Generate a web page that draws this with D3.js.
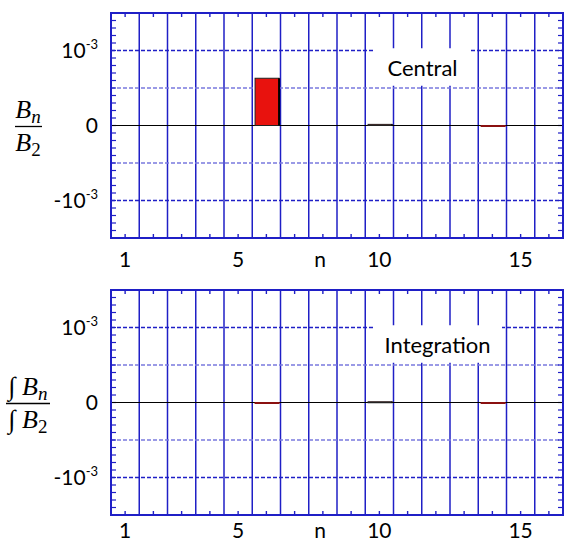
<!DOCTYPE html>
<html>
<head>
<meta charset="utf-8">
<script src="https://cdn.jsdelivr.net/npm/d3@7"></script>
<style>
  body { margin: 0; background: #fff; }
  text { font-family: Lato, "Open Sans", sans-serif; }
  .math { font-family: "Liberation Serif", "DejaVu Serif", serif; font-style: italic; }
</style>
</head>
<body>
<div class="vis"></div>
<script>
// harmonic orders
var orders = d3.range(1, 17)
// relative multipoles, central section
var centralValues = [0, 0, 0, 0, 0, 0.63e-3, 0, 0, 0, 0.015e-3, 0, 0, 0, -0.01e-3, 0, 0]
// relative multipoles, integrated
var integrationValues = [0, 0, 0, 0, 0, -0.01e-3, 0, 0, 0, 0.01e-3, 0, 0, 0, -0.01e-3, 0, 0]
var xTickLabels = [1, 5, 10, 15]
var yTickValues = [1e-3, 0, -1e-3]
var yTickLabels = [["10", "-3"], ["0", ""], ["-10", "-3"]]

var width = 565
var height = 545
var left = 111, right = 563

var svg = d3.select(".vis").append("svg")
    .attr("width", width)
    .attr("height", height)

var x = d3.scaleLinear().domain([0.5, 16.5]).range([left, right])

var blue = "#1f1fc6"

function drawPanel(top, bottom, values, label, labelBox, xLabelY, titleNum, titleDen, integral){
  var y = d3.scaleLinear().domain([-1.5e-3, 1.5e-3]).range([bottom, top])
  var g = svg.append("g")

  // vertical grid at half-integers
  g.selectAll(".vgrid")
      .data(d3.range(1.5, 16, 1))
    .enter().append("line")
      .attr("x1", function(d){ return x(d) })
      .attr("x2", function(d){ return x(d) })
      .attr("y1", top)
      .attr("y2", bottom)
      .attr("stroke", blue)
      .attr("stroke-width", 1.5)

  // horizontal dashed grid
  g.selectAll(".hgrid")
      .data([1e-3, 0.5e-3, -0.5e-3, -1e-3])
    .enter().append("line")
      .attr("x1", left)
      .attr("x2", right)
      .attr("y1", function(d){ return y(d) })
      .attr("y2", function(d){ return y(d) })
      .attr("stroke", function(d){ return Math.abs(d) > 0.7e-3 ? blue : "#7a7ade" })
      .attr("stroke-width", 1.3)
      .attr("stroke-dasharray", "4,2")

  // minor ticks left / right
  var minor = d3.range(-15, 16).map(function(d){ return d * 1e-4 })
  g.selectAll(".ltick").data(minor).enter().append("line")
      .attr("x1", left).attr("x2", left + 5)
      .attr("y1", function(d){ return y(d) }).attr("y2", function(d){ return y(d) })
      .attr("stroke", blue).attr("stroke-width", 1.2)
  g.selectAll(".rtick").data(minor).enter().append("line")
      .attr("x1", right).attr("x2", right - 5)
      .attr("y1", function(d){ return y(d) }).attr("y2", function(d){ return y(d) })
      .attr("stroke", blue).attr("stroke-width", 1.2)
  // ticks top / bottom at integer n
  g.selectAll(".btick").data(orders).enter().append("line")
      .attr("x1", function(d){ return x(d) }).attr("x2", function(d){ return x(d) })
      .attr("y1", bottom).attr("y2", bottom - 4)
      .attr("stroke", blue).attr("stroke-width", 1.4)
  g.selectAll(".ttick").data(orders).enter().append("line")
      .attr("x1", function(d){ return x(d) }).attr("x2", function(d){ return x(d) })
      .attr("y1", top).attr("y2", top + 4)
      .attr("stroke", blue).attr("stroke-width", 1.4)

  // label with white box
  g.append("rect")
      .attr("x", labelBox[0])
      .attr("width", labelBox[1] - labelBox[0])
      .attr("y", y(1.03e-3))
      .attr("height", y(0.53e-3) - y(1.03e-3))
      .attr("fill", "#fff")
  g.append("text")
      .attr("x", (labelBox[0] + labelBox[1]) / 2)
      .attr("y", y(0.77e-3))
      .attr("text-anchor", "middle")
      .attr("dominant-baseline", "central")
      .attr("font-size", 22)
      .text(label)

  // zero line
  g.append("line")
      .attr("x1", left).attr("x2", right)
      .attr("y1", y(0)).attr("y2", y(0))
      .attr("stroke", "#000").attr("stroke-width", 1.2)

  // bars
  var data = orders.map(function(n, i){ return {n: n, v: values[i]} })
      .filter(function(d){ return d.v !== 0 })
  var bars = g.selectAll(".bar").data(data).enter().append("g")
  bars.append("rect")
      .attr("x", function(d){ return x(d.n - 0.4) })
      .attr("width", function(d){ return x(d.n + 0.45) - x(d.n - 0.4) })
      .attr("y", function(d){ return y(Math.max(0, d.v)) })
      .attr("height", function(d){ return Math.max(1, Math.abs(y(d.v) - y(0))) })
      .attr("fill", "#e8120e")
      .attr("stroke", function(d){ return d.v > 0 ? "#222" : "#8a1010" })
      .attr("stroke-width", 1)
  bars.filter(function(d){ return d.v > 0 }).append("line")
      .attr("x1", function(d){ return x(d.n + 0.45) })
      .attr("x2", function(d){ return x(d.n + 0.45) })
      .attr("y1", function(d){ return y(d.v) })
      .attr("y2", y(0))
      .attr("stroke", "#000")
      .attr("stroke-width", 2)

  // frame
  g.append("rect")
      .attr("x", left).attr("y", top)
      .attr("width", right - left).attr("height", bottom - top)
      .attr("fill", "none")
      .attr("stroke", blue)
      .attr("stroke-width", 2)

  // y tick labels
  var yl = g.selectAll(".ylab").data(yTickValues).enter().append("text")
      .attr("x", 98)
      .attr("y", function(d){ return y(d) + 7.5 })
      .attr("text-anchor", "end")
      .attr("font-size", 21)
  yl.append("tspan").text(function(d, i){ return yTickLabels[i][0] })
  yl.append("tspan")
      .attr("font-size", 13)
      .attr("dy", -9)
      .text(function(d, i){ return yTickLabels[i][1] })

  // x tick labels
  g.selectAll(".xlab").data(xTickLabels).enter().append("text")
      .attr("x", function(d){ return x(d) })
      .attr("y", xLabelY)
      .attr("text-anchor", "middle")
      .attr("dominant-baseline", "central")
      .attr("font-size", 21)
      .text(function(d){ return d })
  g.append("text")
      .attr("x", x(7.9))
      .attr("y", xLabelY)
      .attr("text-anchor", "middle")
      .attr("dominant-baseline", "central")
      .attr("font-size", 21)
      .text("n")

  // y title as a fraction
  var cx = 28
  var yz = y(0)
  var num = g.append("text").attr("class", "math")
      .attr("x", cx).attr("y", yz - 8)
      .attr("text-anchor", "middle").attr("font-size", 26)
  if(integral) num.append("tspan").attr("font-style", "normal").text("\u222B ")
  num.append("tspan").text("B")
  num.append("tspan").attr("font-size", 19).attr("dy", 5).text(titleNum)
  var den = g.append("text").attr("class", "math")
      .attr("x", cx).attr("y", yz + 25)
      .attr("text-anchor", "middle").attr("font-size", 26)
  if(integral) den.append("tspan").attr("font-style", "normal").text("\u222B ")
  den.append("tspan").text("B")
  den.append("tspan").attr("font-style", "normal").attr("font-size", 19).attr("dy", 5).text(titleDen)
  g.append("line")
      .attr("x1", integral ? 6 : 15).attr("x2", integral ? 50 : 42)
      .attr("y1", yz + 1).attr("y2", yz + 1)
      .attr("stroke", "#000").attr("stroke-width", 1.3)
}

drawPanel(13, 238, centralValues, "Central", [375, 470], 258, "n", "2", false)
drawPanel(290, 515, integrationValues, "Integration", [373, 502], 529, "n", "2", true)
</script>
</body>
</html>
